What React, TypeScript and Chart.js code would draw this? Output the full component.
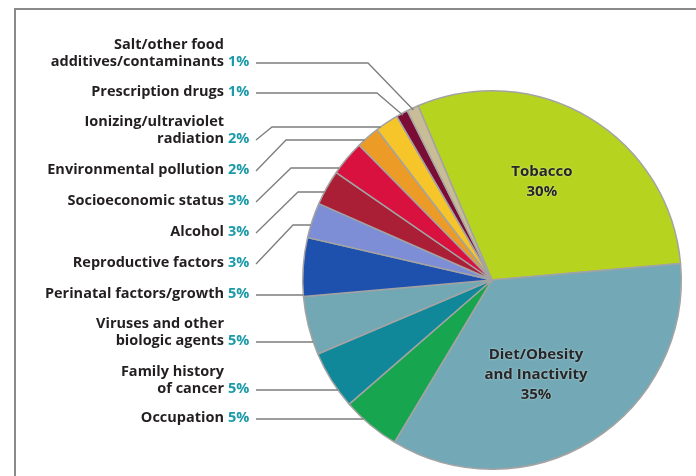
import React, { useEffect, useRef } from "react";
import { Chart, registerables } from "chart.js";

Chart.register(...registerables);

const categories = [
  "Tobacco",
  "Diet/Obesity and Inactivity",
  "Occupation",
  "Family history of cancer",
  "Viruses and other biologic agents",
  "Perinatal factors/growth",
  "Reproductive factors",
  "Alcohol",
  "Socioeconomic status",
  "Environmental pollution",
  "Ionizing/ultraviolet radiation",
  "Prescription drugs",
  "Salt/other food additives/contaminants",
];
const values = [30, 35, 5, 5, 5, 5, 3, 3, 3, 2, 2, 1, 1];
const colors = [
  "#b6d41f",
  "#73a9b6",
  "#17a550",
  "#108899",
  "#72a8b4",
  "#1e50ae",
  "#7d8ed6",
  "#ab1f36",
  "#d8113f",
  "#ec9b27",
  "#f5c52a",
  "#7a0c36",
  "#c9bd98",
];
// display lines for the text labels (same order as categories)
const displayLines: string[][] = [
  ["Tobacco"],
  ["Diet/Obesity", "and Inactivity"],
  ["Occupation"],
  ["Family history", "of cancer"],
  ["Viruses and other", "biologic agents"],
  ["Perinatal factors/growth"],
  ["Reproductive factors"],
  ["Alcohol"],
  ["Socioeconomic status"],
  ["Environmental pollution"],
  ["Ionizing/ultraviolet", "radiation"],
  ["Prescription drugs"],
  ["Salt/other food", "additives/contaminants"],
];

// layout for outside labels: last-line y, leader kind and elbow
const outside: Record<number, { y: number; kind: string; ex?: number; ey?: number }> = {
  12: { y: 62, kind: "hd", ex: 368 },
  11: { y: 92, kind: "hd", ex: 377 },
  10: { y: 139, kind: "dh", ex: 272, ey: 127 },
  9: { y: 170, kind: "dh", ex: 286, ey: 140 },
  8: { y: 201, kind: "dh", ex: 291, ey: 168 },
  7: { y: 232, kind: "dh", ex: 298, ey: 192 },
  6: { y: 263, kind: "dh", ex: 293, ey: 225 },
  5: { y: 294, kind: "h" },
  4: { y: 341, kind: "h" },
  3: { y: 389, kind: "h" },
  2: { y: 418, kind: "h" },
};
// inside labels: angle from top (deg) and radius fraction
const inside: Record<number, { a: number; r: number }> = {
  0: { a: 27, r: 0.58 },
  1: { a: 155, r: 0.55 },
};

const FONT = 'bold 14.5px "Open Sans", "DejaVu Sans", sans-serif';
const FONT_IN = 'bold 15px "Open Sans", "DejaVu Sans", sans-serif';
const TEXT = "#231f20";
const PCT = "#1b9aa9";
const LINE = "#7d7d7d";

const labelPlugin = {
  id: "labelPlugin",
  afterDraw(chart: any) {
    const ctx = chart.ctx as CanvasRenderingContext2D;
    const meta = chart.getDatasetMeta(0);
    const arc0 = meta.data[0] as any;
    const cx = arc0.x;
    const cy = arc0.y;
    const R = arc0.outerRadius;
    ctx.save();
    ctx.textBaseline = "middle";
    const nameX = 224;
    const pctX = 228;
    const startX = 256;
    const lh = 17;

    categories.forEach((_, i) => {
      const pct = values[i] + "%";
      const lines = displayLines[i];
      if (inside[i]) {
        ctx.font = FONT_IN;
        const ang = (inside[i].a * Math.PI) / 180;
        const px = cx + Math.sin(ang) * R * inside[i].r;
        const py = cy - Math.cos(ang) * R * inside[i].r;
        const all = [...lines, pct];
        const top = py - ((all.length - 1) * 20) / 2;
        ctx.textAlign = "center";
        ctx.fillStyle = "#262626";
        ctx.shadowColor = "rgba(255,255,255,0.6)";
        ctx.shadowBlur = 2;
        all.forEach((t, k) => ctx.fillText(t, px, top + k * 20));
        ctx.shadowBlur = 0;
        return;
      }
      const o = outside[i];
      if (!o) return;
      ctx.font = FONT;
      ctx.textAlign = "right";
      ctx.fillStyle = TEXT;
      lines.forEach((t, k) => {
        ctx.fillText(t, nameX, o.y - (lines.length - 1 - k) * lh);
      });
      ctx.textAlign = "left";
      ctx.fillStyle = PCT;
      ctx.fillText(pct, pctX, o.y);

      // leader line
      const arc = meta.data[i] as any;
      ctx.strokeStyle = LINE;
      ctx.lineWidth = 1.3;
      ctx.beginPath();
      const ly = o.y + 1;
      if (o.kind === "hd") {
        const mid = (arc.startAngle + arc.endAngle) / 2;
        const tx = cx + Math.cos(mid) * (R - 2);
        const ty = cy + Math.sin(mid) * (R - 2);
        ctx.moveTo(startX, ly);
        ctx.lineTo(o.ex!, ly);
        ctx.lineTo(tx, ty);
      } else {
        const hy = o.kind === "dh" ? o.ey! : ly;
        const dy = hy - cy;
        const tx = cx - Math.sqrt(Math.max(R * R - dy * dy, 0));
        ctx.moveTo(startX, ly);
        if (o.kind === "dh") ctx.lineTo(o.ex!, hy);
        ctx.lineTo(tx, hy);
      }
      ctx.stroke();
    });
    ctx.restore();
  },
};

export default function App() {
  const ref = useRef<HTMLCanvasElement>(null);
  useEffect(() => {
    if (!ref.current) return;
    const chart = new Chart(ref.current, {
      type: "pie",
      data: {
        labels: categories,
        datasets: [
          {
            data: values,
            backgroundColor: colors,
            borderColor: "#a3a3a3",
            borderWidth: 1.5,
          },
        ],
      },
      options: {
        responsive: false,
        animation: false,
        rotation: -23,
        layout: { padding: { left: 302, right: 14, top: 90, bottom: 6 } },
        plugins: {
          legend: { display: false },
          tooltip: { enabled: false },
        },
      },
      plugins: [labelPlugin],
    });
    return () => chart.destroy();
  }, []);
  return (
    <div
      style={{
        position: "absolute",
        left: 0,
        top: 0,
        width: 696,
        height: 476,
        background: "#fff",
        overflow: "hidden",
      }}
    >
      <div
        style={{
          position: "absolute",
          left: 14,
          top: 8,
          width: 700,
          height: 500,
          borderTop: "2px solid #8a8a8a",
          borderLeft: "2px solid #8a8a8a",
        }}
      />
      <canvas
        ref={ref}
        width={696}
        height={476}
        style={{ position: "absolute", left: 0, top: 0, width: 696, height: 476 }}
      />
    </div>
  );
}
